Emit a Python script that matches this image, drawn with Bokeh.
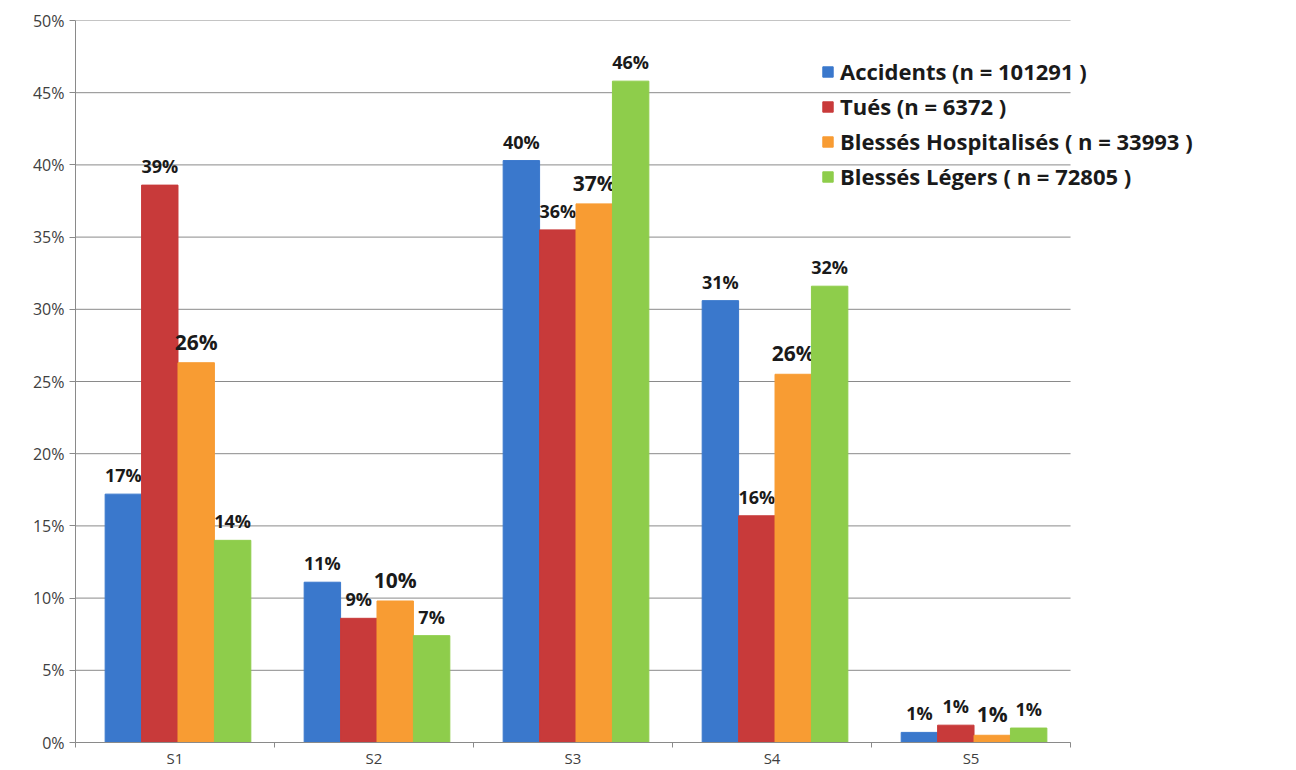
import math
from bokeh.plotting import figure
from bokeh.models import (ColumnDataSource, FixedTicker, NumeralTickFormatter,
                          Range1d, Legend, LegendItem)
from bokeh.core.properties import value
from bokeh.embed import file_html
from bokeh.resources import INLINE

categories = ["S1", "S2", "S3", "S4", "S5"]
series_names = ["Accidents (n = 101291 )", "Tués (n = 6372 )",
                "Blessés Hospitalisés ( n = 33993 )", "Blessés Légers ( n = 72805 )"]
accidents = [17.2, 11.1, 40.3, 30.6, 0.7]
tues = [38.6, 8.6, 35.5, 15.7, 1.2]
hospitalises = [26.3, 9.8, 37.3, 25.5, 0.5]
legers = [14.0, 7.4, 45.8, 31.6, 1.0]
y_ticks = [0, 0.05, 0.10, 0.15, 0.20, 0.25, 0.30, 0.35, 0.40, 0.45, 0.50]
colors = ["#3A78CC", "#C83A3A", "#F89C33", "#8ECD4B"]
label_sizes = ["18px", "18px", "21px", "18px"]

series = [accidents, tues, hospitalises, legers]
n_cat = len(categories)
FONT = "Open Sans"

p = figure(width=1296, height=770, output_backend="svg", toolbar_location=None,
           x_range=Range1d(0, 6.055), y_range=Range1d(0, 0.5),
           min_border_left=75, min_border_right=16, min_border_top=20,
           min_border_bottom=27)
p.outline_line_color = None
p.xgrid.grid_line_color = None
p.ygrid.grid_line_color = None

# horizontal gridlines limited to the category area
p.segment(x0=[0] * len(y_ticks), x1=[n_cat] * len(y_ticks), y0=y_ticks, y1=y_ticks,
          line_color="#8A8A8A", line_width=1)

p.yaxis.ticker = FixedTicker(ticks=y_ticks)
p.yaxis.formatter = NumeralTickFormatter(format="0%")
p.yaxis.axis_line_color = "#8A8A8A"
p.yaxis.major_tick_line_color = "#8A8A8A"
p.yaxis.major_tick_out = 6
p.yaxis.major_tick_in = 0
p.yaxis.minor_tick_line_color = None
p.yaxis.major_label_text_font = FONT
p.yaxis.major_label_text_font_size = "16px"
p.yaxis.major_label_text_color = "#404040"
p.yaxis.major_label_standoff = 5

centers = [i + 0.5 for i in range(n_cat)]
p.xaxis.bounds = (0, n_cat)
p.xaxis.ticker = FixedTicker(ticks=centers, minor_ticks=list(range(n_cat + 1)))
p.xaxis.major_label_overrides = {c: cat for c, cat in zip(centers, categories)}
p.xaxis.major_tick_line_color = None
p.xaxis.major_tick_out = 0
p.xaxis.major_tick_in = 0
p.xaxis.minor_tick_line_color = "#8A8A8A"
p.xaxis.minor_tick_out = 5
p.xaxis.minor_tick_in = 0
p.xaxis.axis_line_color = "#8A8A8A"
p.xaxis.major_label_text_font = FONT
p.xaxis.major_label_text_font_size = "15px"
p.xaxis.major_label_text_color = "#404040"
p.xaxis.major_label_text_line_height = 1.0
p.xaxis.major_label_standoff = 0

bar_w = 0.183
items = []
for k, (vals, col, name, fs) in enumerate(zip(series, colors, series_names, label_sizes)):
    xs = [c + 0.015 + (k - 1.5) * bar_w for c in centers]
    src = ColumnDataSource(dict(x=xs, top=[v / 100 for v in vals],
                                lbl=[f"{math.floor(v + 0.5)}%" for v in vals]))
    r = p.vbar(x="x", top="top", width=bar_w, source=src, fill_color=col,
               line_color=col, line_width=1)
    p.text(x="x", y="top", text="lbl", source=src, text_align="center",
           text_baseline="bottom", y_offset=-7, text_font=value(FONT),
           text_font_style="bold", text_font_size=fs, text_color="#1A1A1A")
    items.append(LegendItem(label=name, renderers=[r]))

legend = Legend(items=items, location=(746, 551), orientation="vertical",
                label_text_font=FONT, label_text_font_style="bold",
                label_text_font_size="22px", label_text_color="#1A1A1A",
                glyph_width=13, glyph_height=13, label_height=22, spacing=5,
                label_standoff=6, padding=0, margin=0,
                border_line_color=None, background_fill_alpha=0)
p.add_layout(legend, "center")

open("out.html", "w").write(file_html(p, INLINE))
